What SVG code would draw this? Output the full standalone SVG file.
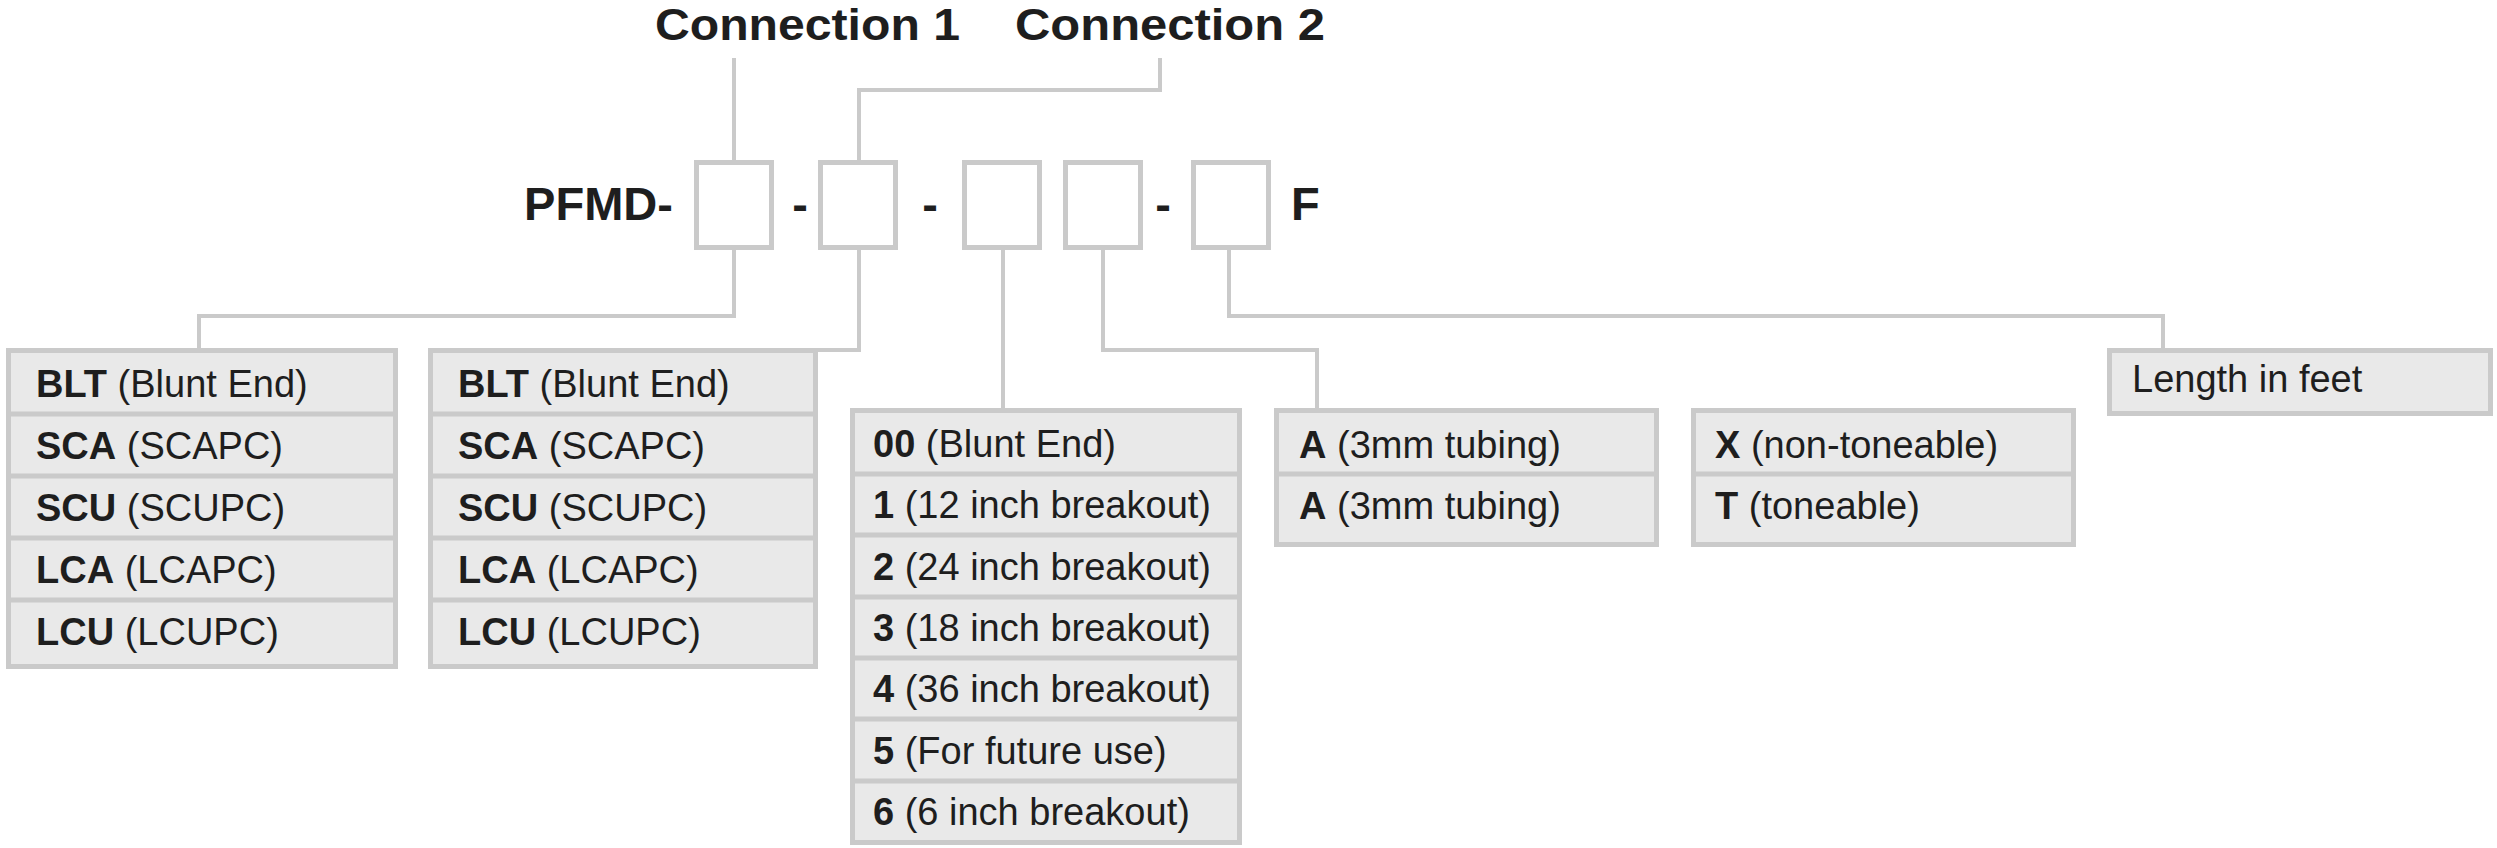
<svg xmlns="http://www.w3.org/2000/svg" width="2497" height="848" viewBox="0 0 2497 848">
<style>
.hd{font-family:"Liberation Sans",Arial,sans-serif;font-weight:bold;font-size:47px;fill:#1e1e1e}
.hd2{font-family:"Liberation Sans",Arial,sans-serif;font-weight:bold;font-size:44px;fill:#1e1e1e}
.t{font-family:"Liberation Sans",Arial,sans-serif;font-size:38px;fill:#1e1e1e}
.t tspan.b{font-weight:bold}
.box{fill:#fff;stroke:#cacaca;stroke-width:5}
.tbl{fill:#e9e9e9;stroke:#cacaca;stroke-width:5}
.sep{stroke:#cacaca;stroke-width:5;fill:none}
.con{stroke:#cacaca;stroke-width:4;fill:none}
</style>
<rect width="2497" height="848" fill="#fff"/>
<g id="connectors">
<path class="con" d="M734 58V160"/>
<path class="con" d="M1160 58V90H859V160"/>
<path class="con" d="M734 250V316H199V349"/>
<path class="con" d="M859 250V350H818"/>
<path class="con" d="M1003 250V408"/>
<path class="con" d="M1103 250V350H1317V408"/>
<path class="con" d="M1229 250V316H2163V348"/>
</g>
<g id="headers">
<text class="hd2" x="655" y="40" textLength="305" lengthAdjust="spacingAndGlyphs">Connection 1</text>
<text class="hd2" x="1015" y="40" textLength="310" lengthAdjust="spacingAndGlyphs">Connection 2</text>
</g>
<g id="code">
<text class="hd" x="524" y="220" textLength="149" lengthAdjust="spacingAndGlyphs">PFMD-</text>
<text class="hd" x="800" y="220" text-anchor="middle">-</text>
<text class="hd" x="930" y="220" text-anchor="middle">-</text>
<text class="hd" x="1163" y="220" text-anchor="middle">-</text>
<text class="hd" x="1291" y="220">F</text>
</g>
<g id="box1"><rect class="box" x="696.5" y="162.5" width="75" height="85"/></g>
<g id="box2"><rect class="box" x="820.5" y="162.5" width="75" height="85"/></g>
<g id="box3"><rect class="box" x="964.5" y="162.5" width="75" height="85"/></g>
<g id="box4"><rect class="box" x="1065.5" y="162.5" width="75" height="85"/></g>
<g id="box5"><rect class="box" x="1193.5" y="162.5" width="75" height="85"/></g>
<g id="table1">
<rect class="tbl" x="8.5" y="350.5" width="387" height="316"/>
<path class="sep" d="M8 414H396M8 476H396M8 538H396M8 600H396"/>
<text class="t" x="36" y="397"><tspan class="b">BLT</tspan> (Blunt End)</text>
<text class="t" x="36" y="459"><tspan class="b">SCA</tspan> (SCAPC)</text>
<text class="t" x="36" y="521"><tspan class="b">SCU</tspan> (SCUPC)</text>
<text class="t" x="36" y="583"><tspan class="b">LCA</tspan> (LCAPC)</text>
<text class="t" x="36" y="645"><tspan class="b">LCU</tspan> (LCUPC)</text>
</g>
<g id="table2">
<rect class="tbl" x="430.5" y="350.5" width="385" height="316"/>
<path class="sep" d="M430 414H816M430 476H816M430 538H816M430 600H816"/>
<text class="t" x="458" y="397"><tspan class="b">BLT</tspan> (Blunt End)</text>
<text class="t" x="458" y="459"><tspan class="b">SCA</tspan> (SCAPC)</text>
<text class="t" x="458" y="521"><tspan class="b">SCU</tspan> (SCUPC)</text>
<text class="t" x="458" y="583"><tspan class="b">LCA</tspan> (LCAPC)</text>
<text class="t" x="458" y="645"><tspan class="b">LCU</tspan> (LCUPC)</text>
</g>
<g id="table3">
<rect class="tbl" x="852.5" y="410.5" width="387" height="432"/>
<path class="sep" d="M852 474H1240M852 535H1240M852 597H1240M852 658H1240M852 719H1240M852 781H1240"/>
<text class="t" x="873" y="457"><tspan class="b">00</tspan> (Blunt End)</text>
<text class="t" x="873" y="518"><tspan class="b">1</tspan> (12 inch breakout)</text>
<text class="t" x="873" y="580"><tspan class="b">2</tspan> (24 inch breakout)</text>
<text class="t" x="873" y="641"><tspan class="b">3</tspan> (18 inch breakout)</text>
<text class="t" x="873" y="702"><tspan class="b">4</tspan> (36 inch breakout)</text>
<text class="t" x="873" y="764"><tspan class="b">5</tspan> (For future use)</text>
<text class="t" x="873" y="825"><tspan class="b">6</tspan> (6 inch breakout)</text>
</g>
<g id="table4">
<rect class="tbl" x="1276.5" y="410.5" width="380" height="134"/>
<path class="sep" d="M1276 474H1657"/>
<text class="t" x="1299" y="458"><tspan class="b">A</tspan> (3mm tubing)</text>
<text class="t" x="1299" y="519"><tspan class="b">A</tspan> (3mm tubing)</text>
</g>
<g id="table5">
<rect class="tbl" x="1693.5" y="410.5" width="380" height="134"/>
<path class="sep" d="M1693 474H2074"/>
<text class="t" x="1715" y="458"><tspan class="b">X</tspan> (non-toneable)</text>
<text class="t" x="1715" y="519"><tspan class="b">T</tspan> (toneable)</text>
</g>
<g id="table6">
<rect class="tbl" x="2109.5" y="350.5" width="381" height="63"/>
<text class="t" x="2132" y="392">Length in feet</text>
</g>
</svg>
